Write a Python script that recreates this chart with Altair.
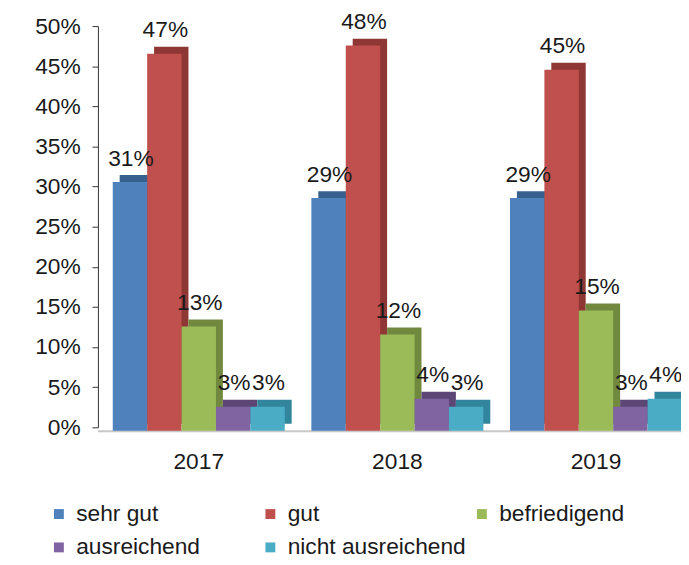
import altair as alt
import pandas as pd

years = ["2017", "2018", "2019"]
series = ["sehr gut", "gut", "befriedigend", "ausreichend", "nicht ausreichend"]
values = {
    "sehr gut": [0.31, 0.29, 0.29],
    "gut": [0.47, 0.48, 0.45],
    "befriedigend": [0.13, 0.12, 0.15],
    "ausreichend": [0.03, 0.04, 0.03],
    "nicht ausreichend": [0.03, 0.03, 0.04],
}
colors = ["#4F81BD", "#C0504D", "#9BBB59", "#8064A2", "#4BACC6"]
dark_colors = ["#38608F", "#8E3735", "#71893F", "#5B4676", "#31859C"]

rows = []
for si, s in enumerate(series):
    for yi, yr in enumerate(years):
        rows.append({"year": yr, "series": s, "order": si, "value": values[s][yi],
                     "dark": dark_colors[si]})
df = pd.DataFrame(rows)

FONT = "Liberation Sans"
TXT = "#1a1a1a"
FS = 23

BAND = 576 / (3 - 0.134) * (1 - 0.134)
DEPTH = 7

x_enc = alt.X("year:N", sort=years,
              scale=alt.Scale(range=[15, 591], paddingInner=0.134, paddingOuter=0),
              axis=alt.Axis(title=None, labelAngle=0, domain=False, ticks=False,
                            labelFontSize=FS, labelFont=FONT, labelColor=TXT,
                            labelPadding=24))
xo_front = alt.XOffset("series:N", sort=series,
                       scale=alt.Scale(paddingInner=0, paddingOuter=0, range=[0, BAND]))
xo_back = alt.XOffset("series:N", sort=series,
                      scale=alt.Scale(paddingInner=0, paddingOuter=0,
                                      range=[DEPTH, BAND + DEPTH]))
xo_label = alt.XOffset("series:N", sort=series,
                       scale=alt.Scale(type="point", padding=0,
                                       range=[BAND / 10, BAND * 9 / 10]))
y_enc = alt.Y("value:Q", scale=alt.Scale(domain=[0, 0.5], nice=False),
              axis=alt.Axis(title=None, format=".0%", values=[i / 20 for i in range(11)],
                            labelFontSize=FS, labelFont=FONT, labelColor=TXT,
                            labelPadding=12, tickSize=6, tickColor="#333",
                            domainColor="#333", grid=False))

base = alt.Chart(df)

floor = alt.Chart(pd.DataFrame({"v": [0]})).mark_rule(
    color="#c8c8c8", strokeWidth=2, yOffset=4).encode(
    y=alt.Y("v:Q", scale=alt.Scale(domain=[0, 0.5], nice=False)))

back = base.mark_bar(yOffset=-3.5, y2Offset=-3.5).encode(
    x=x_enc, xOffset=xo_back, y=y_enc,
    color=alt.Color("dark:N", scale=None),
)

front = base.mark_bar(yOffset=3.5, y2Offset=3.5).encode(
    x=x_enc, xOffset=xo_front, y=y_enc,
    color=alt.Color("series:N", sort=series,
                    scale=alt.Scale(domain=series, range=colors),
                    legend=alt.Legend(title=None, orient="none", legendX=-51, legendY=482,
                                      columns=3, gridAlign="all", columnPadding=4,
                                      rowPadding=10, symbolType="square", symbolSize=100,
                                      symbolStrokeWidth=0, labelFontSize=FS, labelFont=FONT,
                                      labelColor=TXT, labelOffset=6, labelLimit=400,
                                      direction="horizontal")),
)

labels = base.mark_text(baseline="bottom", dy=-8, dx=1, fontSize=FS,
                        font=FONT, color=TXT).encode(
    x=x_enc, xOffset=xo_label, y=y_enc,
    text=alt.Text("value:Q", format=".0%"),
)

chart = alt.layer(floor, back, front, labels).resolve_scale(
    xOffset="independent"
).properties(
    width=590, height=406,
    padding={"left": 91, "top": 15, "right": 0, "bottom": 136},
    autosize="none",
).configure_view(stroke=None)

chart.save("out.html", embed_options={"renderer": "svg", "actions": False})
